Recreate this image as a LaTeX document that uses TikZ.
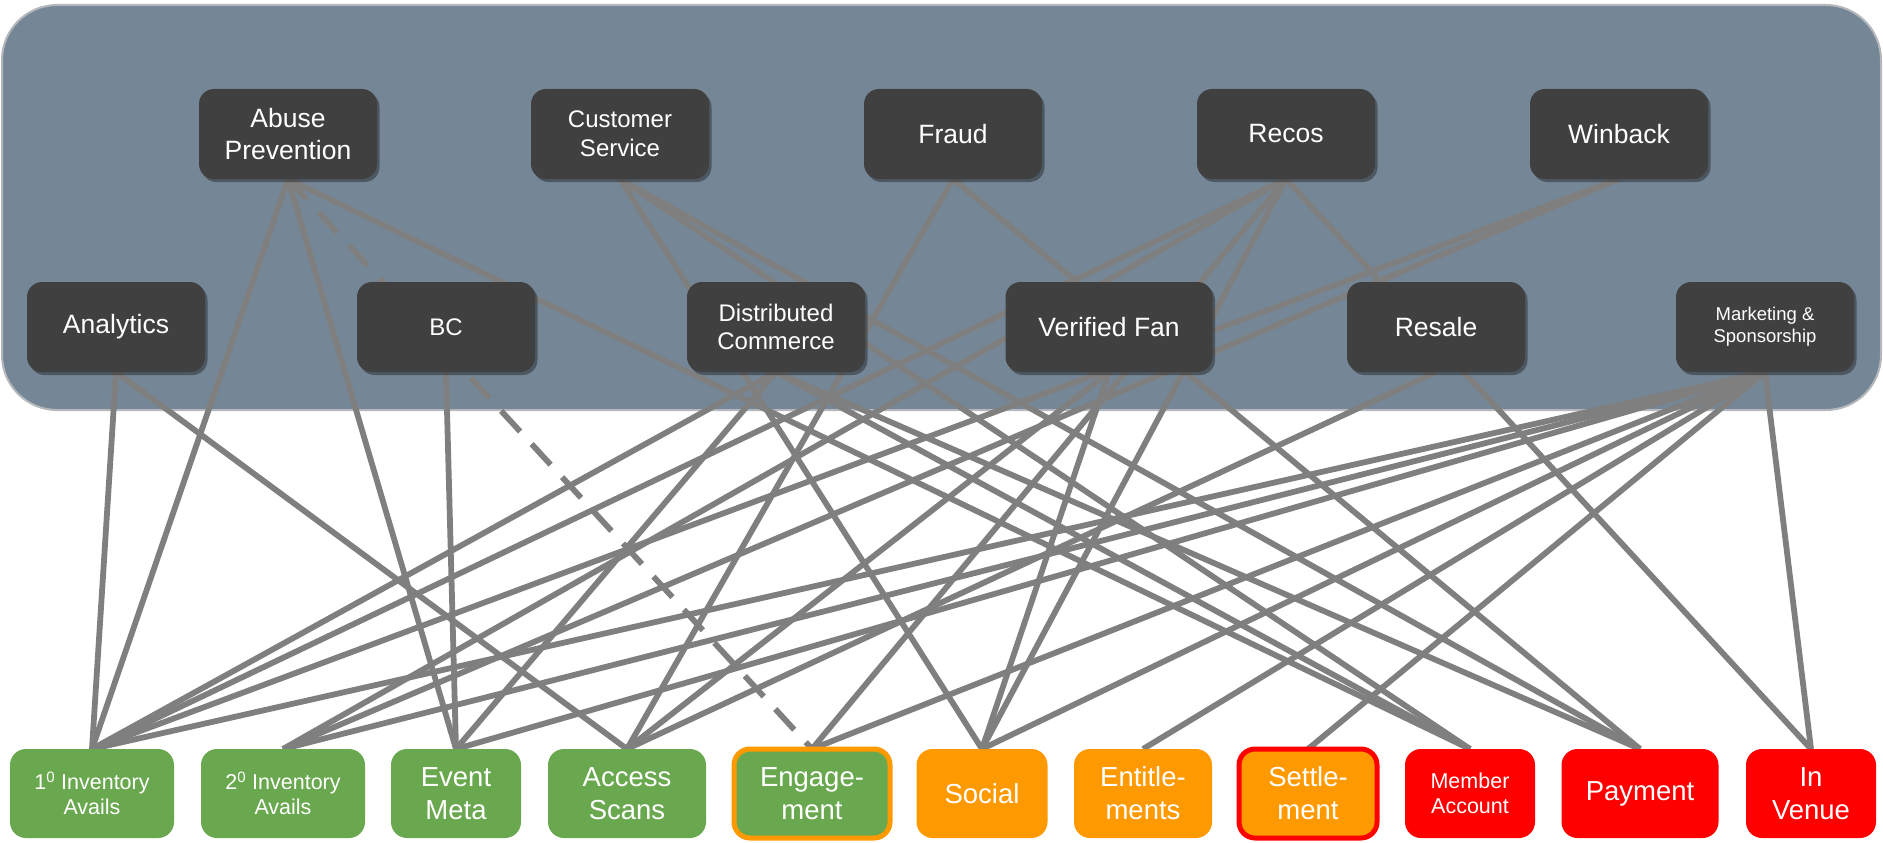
\documentclass[tikz,border=0pt]{standalone}
\usepackage{fontspec}
\setmainfont{Liberation Sans}
\usetikzlibrary{shadows}
\definecolor{panelc}{HTML}{758796}
\definecolor{panelb}{HTML}{B4B8BC}
\definecolor{boxc}{HTML}{404040}
\definecolor{linec}{HTML}{7F7F7F}
\definecolor{grn}{HTML}{6AA84F}
\definecolor{org}{HTML}{FF9900}
\definecolor{rd}{HTML}{FF0000}
\pgfdeclarelayer{back}
\pgfdeclarelayer{mid}
\pgfsetlayers{back,mid,main}
\tikzset{
  dbox/.style={rectangle, rounded corners=15pt, fill=boxc, text=white,
    minimum height=90pt, minimum width=178pt, inner sep=0pt, outer sep=0pt,
    align=center, font=\fontsize{26.5}{32}\selectfont,
    drop shadow={shadow xshift=2.5pt, shadow yshift=-3pt, opacity=0.35, fill=black}},
  lbox/.style={rectangle, rounded corners=16pt, minimum height=89pt,
    inner sep=0pt, outer sep=0pt, align=center, text=white,
    font=\fontsize{27.5}{33}\selectfont},
  gbox/.style={lbox, fill=grn},
  obox/.style={lbox, fill=org},
  rbox/.style={lbox, fill=rd},
  smalltxt/.style={font=\fontsize{21.5}{25}\selectfont},
  conn/.style={draw=linec, line width=5.8pt},
  dconn/.style={conn, dash pattern=on 28pt off 17pt},
  panel/.style={fill=panelc, draw=panelb, line width=2pt, rounded corners=55pt}
}
\begin{document}
\begin{tikzpicture}[x=1pt,y=-1pt]
\useasboundingbox (0,0) rectangle (1883,843);

% top row
\node[dbox] (abuse)   at (288,134)  {Abuse\\Prevention};
\node[dbox, font=\fontsize{24}{29}\selectfont] (cs) at (620,134) {Customer\\Service};
\node[dbox] (fraud)   at (953,134)  {Fraud};
\node[dbox] (recos)   at (1286,134) {Recos};
\node[dbox] (winback) at (1619,134) {Winback};

% middle row
\node[dbox] (analytics) at (116,327) {Analytics};
\node[dbox, font=\fontsize{24}{29}\selectfont] (bc) at (446,327) {BC};
\node[dbox, font=\fontsize{24}{28.5}\selectfont] (dc) at (776,327) {Distributed\\Commerce};
\node[dbox, minimum width=207pt] (vf) at (1109,327) {Verified Fan};
\node[dbox] (resale) at (1436,327) {Resale};
\node[dbox, font=\fontsize{18.5}{22}\selectfont] (mkt) at (1765,327) {Marketing \&\\Sponsorship};

% bottom row
\node[gbox, smalltxt, minimum width=164pt] (inv1) at (92,793.5)  {1\textsuperscript{0} Inventory\\Avails};
\node[gbox, smalltxt, minimum width=164pt] (inv2) at (283,793.5) {2\textsuperscript{0} Inventory\\Avails};
\node[gbox, minimum width=130pt] (em)  at (456,793.5) {Event\\Meta};
\node[gbox, minimum width=158pt] (as)  at (627,793.5) {Access\\Scans};
\node[gbox, draw=org, line width=5pt, minimum width=156pt] (eng) at (812,793.5) {Engage-\\ment};
\node[obox, minimum width=131pt] (soc) at (982,793.5) {Social};
\node[obox, minimum width=138pt] (ent) at (1143,793.5) {Entitle-\\ments};
\node[obox, draw=rd, line width=5pt, minimum width=138pt] (set) at (1308,793.5) {Settle-\\ment};
\node[rbox, smalltxt, minimum width=130pt] (ma) at (1470,793.5) {Member\\Account};
\node[rbox, minimum width=157pt] (pay) at (1640,793.5) {Payment};
\node[rbox, minimum width=130pt] (iv)  at (1811,793.5) {In\\Venue};

\begin{pgfonlayer}{back}
  \draw[panel] (2,5) rectangle (1881,410);
\end{pgfonlayer}

\begin{pgfonlayer}{mid}
  \foreach \a/\b in {abuse/inv1, abuse/em, abuse/ma,
      cs/soc, cs/ma, cs/pay,
      fraud/as, fraud/pay,
      recos/inv1, recos/inv2, recos/eng, recos/soc, recos/iv,
      winback/inv1, winback/inv2,
      analytics/inv1, analytics/as,
      bc/em,
      dc/inv1, dc/em, dc/ma, dc/pay,
      vf/as, vf/soc,
      resale/as,
      mkt/inv1, mkt/inv2, mkt/em, mkt/eng, mkt/soc, mkt/ent, mkt/set, mkt/iv}
    \draw[conn] (\a.south) -- (\b.north);
  \draw[dconn] (abuse.south) -- (eng.north);
\end{pgfonlayer}
\end{tikzpicture}
\end{document}
